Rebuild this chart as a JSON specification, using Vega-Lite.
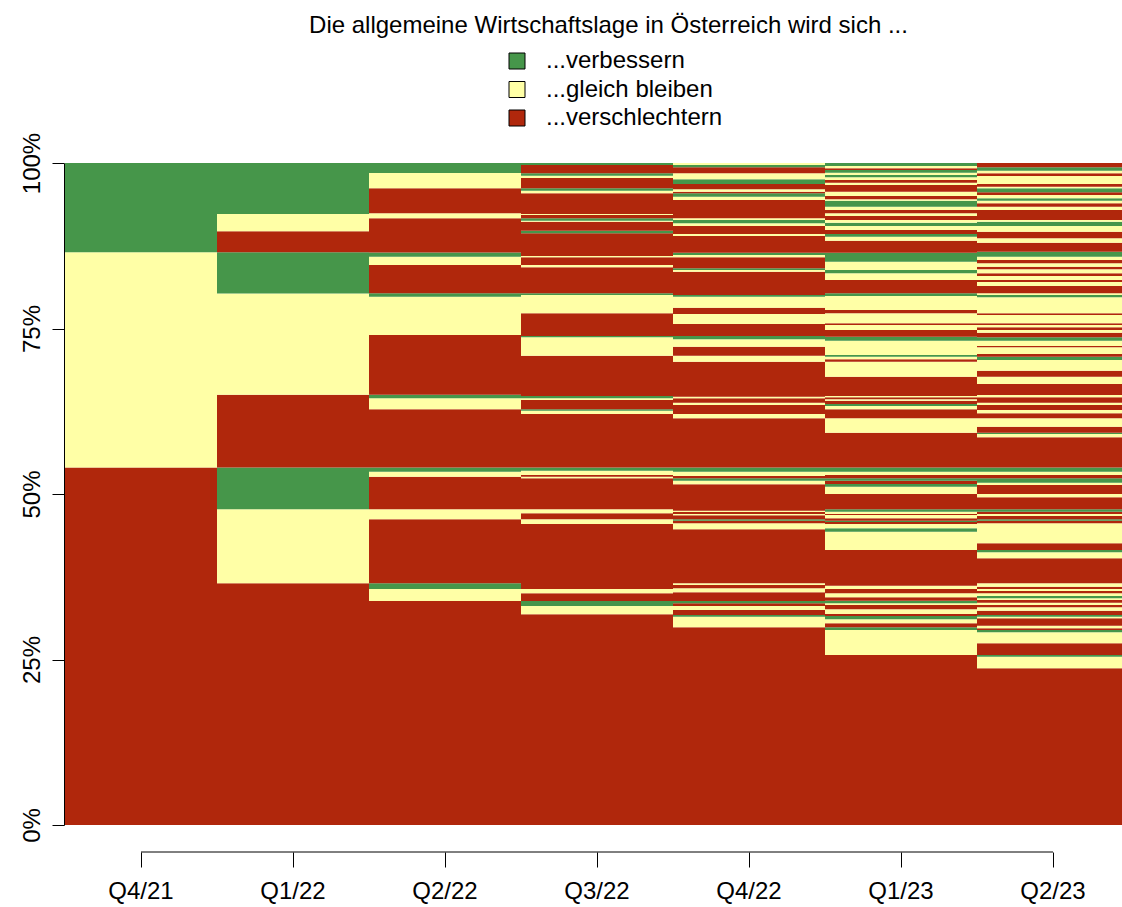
{
"$schema": "https://vega.github.io/schema/vega-lite/v6.json",
"width": 1057, "height": 662,
"autosize": {"type": "none"},
"padding": {"left": 65, "top": 163, "right": 0, "bottom": 82},
"background": "white",
"config": {"view": {"stroke": null}, "font": "Liberation Sans"},
"title": {"text": "Die allgemeine Wirtschaftslage in Österreich wird sich ...", "fontSize": 24, "fontWeight": "normal", "font": "Liberation Sans", "color": "black", "anchor": "middle", "dx": 15, "dy": 24, "frame": "group", "offset": 16, "baseline": "alphabetic"},
"data": {"values": [
{"q":"Q4/21","i":0,"a":"R","p":54},{"q":"Q4/21","i":1,"a":"Y","p":32.5},{"q":"Q4/21","i":2,"a":"G","p":13.5},
{"q":"Q1/22","i":0,"a":"R","p":36.5},{"q":"Q1/22","i":1,"a":"Y","p":11.2},{"q":"Q1/22","i":2,"a":"G","p":6.3},{"q":"Q1/22","i":3,"a":"R","p":11},{"q":"Q1/22","i":4,"a":"Y","p":15.3},{"q":"Q1/22","i":5,"a":"G","p":6.2},{"q":"Q1/22","i":6,"a":"R","p":3.2},{"q":"Q1/22","i":7,"a":"Y","p":2.6},{"q":"Q1/22","i":8,"a":"G","p":7.7},
{"q":"Q2/22","i":0,"a":"R","p":33.84},{"q":"Q2/22","i":1,"a":"Y","p":1.81},{"q":"Q2/22","i":2,"a":"G","p":0.86},{"q":"Q2/22","i":3,"a":"R","p":9.67},{"q":"Q2/22","i":4,"a":"Y","p":1.51},{"q":"Q2/22","i":5,"a":"R","p":4.92},{"q":"Q2/22","i":6,"a":"Y","p":0.76},{"q":"Q2/22","i":7,"a":"G","p":0.63},{"q":"Q2/22","i":8,"a":"R","p":8.79},{"q":"Q2/22","i":9,"a":"Y","p":1.67},{"q":"Q2/22","i":10,"a":"G","p":0.54},{"q":"Q2/22","i":11,"a":"R","p":9.02},{"q":"Q2/22","i":12,"a":"Y","p":5.78},{"q":"Q2/22","i":13,"a":"G","p":0.52},{"q":"Q2/22","i":14,"a":"R","p":4.27},{"q":"Q2/22","i":15,"a":"Y","p":1.26},{"q":"Q2/22","i":16,"a":"G","p":0.63},{"q":"Q2/22","i":17,"a":"R","p":5.17},{"q":"Q2/22","i":18,"a":"Y","p":0.75},{"q":"Q2/22","i":19,"a":"R","p":3.78},{"q":"Q2/22","i":20,"a":"Y","p":2.31},{"q":"Q2/22","i":21,"a":"G","p":1.51},
{"q":"Q3/22","i":0,"a":"R","p":31.83},{"q":"Q3/22","i":1,"a":"Y","p":1.25},{"q":"Q3/22","i":2,"a":"G","p":0.76},{"q":"Q3/22","i":3,"a":"R","p":1.16},{"q":"Q3/22","i":4,"a":"Y","p":0.65},{"q":"Q3/22","i":5,"a":"R","p":9.82},{"q":"Q3/22","i":6,"a":"Y","p":0.71},{"q":"Q3/22","i":7,"a":"R","p":0.90},{"q":"Q3/22","i":8,"a":"Y","p":0.61},{"q":"Q3/22","i":9,"a":"R","p":4.68},{"q":"Q3/22","i":10,"a":"Y","p":0.24},{"q":"Q3/22","i":11,"a":"R","p":0.26},{"q":"Q3/22","i":12,"a":"Y","p":0.65},{"q":"Q3/22","i":13,"a":"G","p":0.48},{"q":"Q3/22","i":14,"a":"R","p":8.08},{"q":"Q3/22","i":15,"a":"Y","p":0.50},{"q":"Q3/22","i":16,"a":"G","p":0.21},{"q":"Q3/22","i":17,"a":"R","p":1.41},{"q":"Q3/22","i":18,"a":"Y","p":0.26},{"q":"Q3/22","i":19,"a":"G","p":0.34},{"q":"Q3/22","i":20,"a":"R","p":6.09},{"q":"Q3/22","i":21,"a":"Y","p":2.78},{"q":"Q3/22","i":22,"a":"G","p":0.20},{"q":"Q3/22","i":23,"a":"R","p":3.43},{"q":"Q3/22","i":24,"a":"Y","p":2.76},{"q":"Q3/22","i":25,"a":"G","p":0.26},{"q":"Q3/22","i":26,"a":"R","p":3.92},{"q":"Q3/22","i":27,"a":"Y","p":0.35},{"q":"Q3/22","i":28,"a":"R","p":1.17},{"q":"Q3/22","i":29,"a":"Y","p":0.19},{"q":"Q3/22","i":30,"a":"R","p":3.43},{"q":"Q3/22","i":31,"a":"G","p":0.39},{"q":"Q3/22","i":32,"a":"R","p":1.36},{"q":"Q3/22","i":33,"a":"Y","p":0.15},{"q":"Q3/22","i":34,"a":"G","p":0.37},{"q":"Q3/22","i":35,"a":"R","p":0.50},{"q":"Q3/22","i":36,"a":"Y","p":0.15},{"q":"Q3/22","i":37,"a":"R","p":3.12},{"q":"Q3/22","i":38,"a":"Y","p":0.40},{"q":"Q3/22","i":39,"a":"G","p":0.36},{"q":"Q3/22","i":40,"a":"R","p":1.55},{"q":"Q3/22","i":41,"a":"Y","p":0.35},{"q":"Q3/22","i":42,"a":"G","p":0.36},{"q":"Q3/22","i":43,"a":"R","p":1.26},{"q":"Q3/22","i":44,"a":"G","p":0.30},
{"q":"Q4/22","i":0,"a":"R","p":29.86},{"q":"Q4/22","i":1,"a":"Y","p":1.61},{"q":"Q4/22","i":2,"a":"G","p":0.25},{"q":"Q4/22","i":3,"a":"R","p":0.76},{"q":"Q4/22","i":4,"a":"Y","p":0.60},{"q":"Q4/22","i":5,"a":"R","p":0.41},{"q":"Q4/22","i":6,"a":"G","p":0.35},{"q":"Q4/22","i":7,"a":"R","p":1.31},{"q":"Q4/22","i":8,"a":"Y","p":0.61},{"q":"Q4/22","i":9,"a":"R","p":0.49},{"q":"Q4/22","i":10,"a":"Y","p":0.26},{"q":"Q4/22","i":11,"a":"R","p":8.16},{"q":"Q4/22","i":12,"a":"Y","p":0.90},{"q":"Q4/22","i":13,"a":"R","p":0.40},{"q":"Q4/22","i":14,"a":"G","p":0.21},{"q":"Q4/22","i":15,"a":"R","p":0.60},{"q":"Q4/22","i":16,"a":"Y","p":0.20},{"q":"Q4/22","i":17,"a":"R","p":0.30},{"q":"Q4/22","i":18,"a":"Y","p":0.20},{"q":"Q4/22","i":19,"a":"R","p":3.99},{"q":"Q4/22","i":20,"a":"Y","p":0.54},{"q":"Q4/22","i":21,"a":"G","p":0.36},{"q":"Q4/22","i":22,"a":"R","p":0.35},{"q":"Q4/22","i":23,"a":"Y","p":0.65},{"q":"Q4/22","i":24,"a":"G","p":0.63},{"q":"Q4/22","i":25,"a":"R","p":7.44},{"q":"Q4/22","i":26,"a":"Y","p":0.64},{"q":"Q4/22","i":27,"a":"R","p":1.36},{"q":"Q4/22","i":28,"a":"Y","p":0.35},{"q":"Q4/22","i":29,"a":"R","p":0.67},{"q":"Q4/22","i":30,"a":"Y","p":0.24},{"q":"Q4/22","i":31,"a":"R","p":5.28},{"q":"Q4/22","i":32,"a":"Y","p":0.91},{"q":"Q4/22","i":33,"a":"R","p":1.36},{"q":"Q4/22","i":34,"a":"Y","p":1.12},{"q":"Q4/22","i":35,"a":"G","p":0.50},{"q":"Q4/22","i":36,"a":"R","p":1.81},{"q":"Q4/22","i":37,"a":"Y","p":1.51},{"q":"Q4/22","i":38,"a":"R","p":0.95},{"q":"Q4/22","i":39,"a":"Y","p":1.66},{"q":"Q4/22","i":40,"a":"G","p":0.26},{"q":"Q4/22","i":41,"a":"R","p":3.52},{"q":"Q4/22","i":42,"a":"Y","p":0.26},{"q":"Q4/22","i":43,"a":"G","p":0.25},{"q":"Q4/22","i":44,"a":"R","p":1.67},{"q":"Q4/22","i":45,"a":"Y","p":0.34},{"q":"Q4/22","i":46,"a":"G","p":0.35},{"q":"Q4/22","i":47,"a":"R","p":2.52},{"q":"Q4/22","i":48,"a":"Y","p":0.30},{"q":"Q4/22","i":49,"a":"R","p":1.21},{"q":"Q4/22","i":50,"a":"Y","p":0.41},{"q":"Q4/22","i":51,"a":"G","p":0.50},{"q":"Q4/22","i":52,"a":"Y","p":0.26},{"q":"Q4/22","i":53,"a":"R","p":2.76},{"q":"Q4/22","i":54,"a":"Y","p":0.50},{"q":"Q4/22","i":55,"a":"G","p":0.51},{"q":"Q4/22","i":56,"a":"R","p":0.24},{"q":"Q4/22","i":57,"a":"Y","p":0.37},{"q":"Q4/22","i":58,"a":"R","p":0.80},{"q":"Q4/22","i":59,"a":"G","p":0.71},{"q":"Q4/22","i":60,"a":"Y","p":0.90},{"q":"Q4/22","i":61,"a":"R","p":0.91},{"q":"Q4/22","i":62,"a":"G","p":0.35},{"q":"Q4/22","i":63,"a":"Y","p":0.30},
{"q":"Q1/23","i":0,"a":"R","p":25.68},{"q":"Q1/23","i":1,"a":"Y","p":3.78},{"q":"Q1/23","i":2,"a":"G","p":0.40},{"q":"Q1/23","i":3,"a":"R","p":0.61},{"q":"Q1/23","i":4,"a":"Y","p":0.60},{"q":"Q1/23","i":5,"a":"G","p":0.50},{"q":"Q1/23","i":6,"a":"R","p":0.30},{"q":"Q1/23","i":7,"a":"Y","p":0.71},{"q":"Q1/23","i":8,"a":"R","p":0.65},{"q":"Q1/23","i":9,"a":"Y","p":0.26},{"q":"Q1/23","i":10,"a":"G","p":0.39},{"q":"Q1/23","i":11,"a":"R","p":0.52},{"q":"Q1/23","i":12,"a":"Y","p":0.60},{"q":"Q1/23","i":13,"a":"R","p":0.65},{"q":"Q1/23","i":14,"a":"Y","p":0.50},{"q":"Q1/23","i":15,"a":"R","p":5.39},{"q":"Q1/23","i":16,"a":"Y","p":2.77},{"q":"Q1/23","i":17,"a":"G","p":0.51},{"q":"Q1/23","i":18,"a":"Y","p":0.65},{"q":"Q1/23","i":19,"a":"R","p":0.30},{"q":"Q1/23","i":20,"a":"G","p":0.20},{"q":"Q1/23","i":21,"a":"R","p":0.36},{"q":"Q1/23","i":22,"a":"Y","p":0.50},{"q":"Q1/23","i":23,"a":"R","p":0.15},{"q":"Q1/23","i":24,"a":"Y","p":0.35},{"q":"Q1/23","i":25,"a":"G","p":0.36},{"q":"Q1/23","i":26,"a":"R","p":2.31},{"q":"Q1/23","i":27,"a":"Y","p":1.10},{"q":"Q1/23","i":28,"a":"G","p":0.41},{"q":"Q1/23","i":29,"a":"R","p":0.50},{"q":"Q1/23","i":30,"a":"G","p":0.36},{"q":"Q1/23","i":31,"a":"R","p":0.50},{"q":"Q1/23","i":32,"a":"Y","p":0.50},{"q":"Q1/23","i":33,"a":"G","p":0.63},{"q":"Q1/23","i":34,"a":"R","p":5.26},{"q":"Q1/23","i":35,"a":"Y","p":2.18},{"q":"Q1/23","i":36,"a":"R","p":1.35},{"q":"Q1/23","i":37,"a":"Y","p":0.50},{"q":"Q1/23","i":38,"a":"G","p":0.31},{"q":"Q1/23","i":39,"a":"R","p":0.49},{"q":"Q1/23","i":40,"a":"Y","p":0.21},{"q":"Q1/23","i":41,"a":"R","p":0.31},{"q":"Q1/23","i":42,"a":"Y","p":0.19},{"q":"Q1/23","i":43,"a":"R","p":2.92},{"q":"Q1/23","i":44,"a":"Y","p":2.26},{"q":"Q1/23","i":45,"a":"R","p":0.37},{"q":"Q1/23","i":46,"a":"Y","p":0.39},{"q":"Q1/23","i":47,"a":"G","p":0.26},{"q":"Q1/23","i":48,"a":"Y","p":2.16},{"q":"Q1/23","i":49,"a":"G","p":0.60},{"q":"Q1/23","i":50,"a":"R","p":1.01},{"q":"Q1/23","i":51,"a":"Y","p":0.76},{"q":"Q1/23","i":52,"a":"R","p":0.26},{"q":"Q1/23","i":53,"a":"Y","p":1.51},{"q":"Q1/23","i":54,"a":"R","p":0.49},{"q":"Q1/23","i":55,"a":"Y","p":2.12},{"q":"Q1/23","i":56,"a":"G","p":0.41},{"q":"Q1/23","i":57,"a":"R","p":2.01},{"q":"Q1/23","i":58,"a":"Y","p":1.01},{"q":"Q1/23","i":59,"a":"G","p":0.50},{"q":"Q1/23","i":60,"a":"Y","p":1.25},{"q":"Q1/23","i":61,"a":"G","p":1.36},{"q":"Q1/23","i":62,"a":"R","p":1.81},{"q":"Q1/23","i":63,"a":"Y","p":0.61},{"q":"Q1/23","i":64,"a":"G","p":0.40},{"q":"Q1/23","i":65,"a":"R","p":0.61},{"q":"Q1/23","i":66,"a":"Y","p":0.60},{"q":"Q1/23","i":67,"a":"G","p":0.50},{"q":"Q1/23","i":68,"a":"Y","p":0.41},{"q":"Q1/23","i":69,"a":"R","p":0.60},{"q":"Q1/23","i":70,"a":"Y","p":0.41},{"q":"Q1/23","i":71,"a":"R","p":0.50},{"q":"Q1/23","i":72,"a":"Y","p":0.50},{"q":"Q1/23","i":73,"a":"G","p":0.91},{"q":"Q1/23","i":74,"a":"Y","p":0.21},{"q":"Q1/23","i":75,"a":"R","p":0.50},{"q":"Q1/23","i":76,"a":"Y","p":0.64},{"q":"Q1/23","i":77,"a":"R","p":1.02},{"q":"Q1/23","i":78,"a":"Y","p":0.34},{"q":"Q1/23","i":79,"a":"R","p":0.41},{"q":"Q1/23","i":80,"a":"Y","p":0.41},{"q":"Q1/23","i":81,"a":"G","p":0.35},{"q":"Q1/23","i":82,"a":"Y","p":0.35},{"q":"Q1/23","i":83,"a":"G","p":0.40},{"q":"Q1/23","i":84,"a":"R","p":0.26},{"q":"Q1/23","i":85,"a":"Y","p":0.35},{"q":"Q1/23","i":86,"a":"G","p":0.45},
{"q":"Q2/23","i":0,"a":"R","p":23.67},{"q":"Q2/23","i":1,"a":"Y","p":1.75},{"q":"Q2/23","i":2,"a":"G","p":0.26},{"q":"Q2/23","i":3,"a":"R","p":1.77},{"q":"Q2/23","i":4,"a":"Y","p":1.66},{"q":"Q2/23","i":5,"a":"G","p":0.35},{"q":"Q2/23","i":6,"a":"R","p":0.25},{"q":"Q2/23","i":7,"a":"Y","p":0.40},{"q":"Q2/23","i":8,"a":"R","p":1.11},{"q":"Q2/23","i":9,"a":"Y","p":0.25},{"q":"Q2/23","i":10,"a":"G","p":0.25},{"q":"Q2/23","i":11,"a":"R","p":0.65},{"q":"Q2/23","i":12,"a":"Y","p":0.52},{"q":"Q2/23","i":13,"a":"R","p":0.34},{"q":"Q2/23","i":14,"a":"Y","p":0.35},{"q":"Q2/23","i":15,"a":"R","p":0.41},{"q":"Q2/23","i":16,"a":"Y","p":0.25},{"q":"Q2/23","i":17,"a":"G","p":0.35},{"q":"Q2/23","i":18,"a":"Y","p":0.41},{"q":"Q2/23","i":19,"a":"R","p":0.35},{"q":"Q2/23","i":20,"a":"Y","p":0.30},{"q":"Q2/23","i":21,"a":"R","p":0.35},{"q":"Q2/23","i":22,"a":"Y","p":0.51},{"q":"Q2/23","i":23,"a":"R","p":3.78},{"q":"Q2/23","i":24,"a":"Y","p":0.90},{"q":"Q2/23","i":25,"a":"G","p":0.35},{"q":"Q2/23","i":26,"a":"R","p":1.01},{"q":"Q2/23","i":27,"a":"Y","p":3.02},{"q":"Q2/23","i":28,"a":"R","p":0.40},{"q":"Q2/23","i":29,"a":"G","p":0.21},{"q":"Q2/23","i":30,"a":"R","p":0.50},{"q":"Q2/23","i":31,"a":"Y","p":0.30},{"q":"Q2/23","i":32,"a":"R","p":0.35},{"q":"Q2/23","i":33,"a":"G","p":0.36},{"q":"Q2/23","i":34,"a":"R","p":1.81},{"q":"Q2/23","i":35,"a":"Y","p":0.50},{"q":"Q2/23","i":36,"a":"R","p":1.36},{"q":"Q2/23","i":37,"a":"Y","p":0.35},{"q":"Q2/23","i":38,"a":"G","p":0.66},{"q":"Q2/23","i":39,"a":"R","p":0.50},{"q":"Q2/23","i":40,"a":"Y","p":0.50},{"q":"Q2/23","i":41,"a":"G","p":0.63},{"q":"Q2/23","i":42,"a":"R","p":4.57},{"q":"Q2/23","i":43,"a":"Y","p":0.49},{"q":"Q2/23","i":44,"a":"G","p":0.20},{"q":"Q2/23","i":45,"a":"R","p":0.91},{"q":"Q2/23","i":46,"a":"Y","p":1.27},{"q":"Q2/23","i":47,"a":"R","p":0.75},{"q":"Q2/23","i":48,"a":"Y","p":0.50},{"q":"Q2/23","i":49,"a":"R","p":0.75},{"q":"Q2/23","i":50,"a":"Y","p":0.35},{"q":"Q2/23","i":51,"a":"R","p":0.82},{"q":"Q2/23","i":52,"a":"Y","p":0.34},{"q":"Q2/23","i":53,"a":"R","p":1.67},{"q":"Q2/23","i":54,"a":"Y","p":1.10},{"q":"Q2/23","i":55,"a":"R","p":0.91},{"q":"Q2/23","i":56,"a":"Y","p":1.61},{"q":"Q2/23","i":57,"a":"G","p":0.50},{"q":"Q2/23","i":58,"a":"R","p":0.41},{"q":"Q2/23","i":59,"a":"Y","p":1.01},{"q":"Q2/23","i":60,"a":"R","p":0.20},{"q":"Q2/23","i":61,"a":"Y","p":0.80},{"q":"Q2/23","i":62,"a":"G","p":0.51},{"q":"Q2/23","i":63,"a":"R","p":0.70},{"q":"Q2/23","i":64,"a":"Y","p":0.40},{"q":"Q2/23","i":65,"a":"R","p":0.41},{"q":"Q2/23","i":66,"a":"Y","p":0.35},{"q":"Q2/23","i":67,"a":"R","p":0.26},{"q":"Q2/23","i":68,"a":"Y","p":1.25},{"q":"Q2/23","i":69,"a":"R","p":0.26},{"q":"Q2/23","i":70,"a":"Y","p":2.41},{"q":"Q2/23","i":71,"a":"G","p":0.35},{"q":"Q2/23","i":72,"a":"Y","p":0.26},{"q":"Q2/23","i":73,"a":"R","p":1.10},{"q":"Q2/23","i":74,"a":"Y","p":0.60},{"q":"Q2/23","i":75,"a":"R","p":0.31},{"q":"Q2/23","i":76,"a":"Y","p":0.60},{"q":"Q2/23","i":77,"a":"R","p":0.41},{"q":"Q2/23","i":78,"a":"Y","p":0.60},{"q":"Q2/23","i":79,"a":"R","p":0.40},{"q":"Q2/23","i":80,"a":"Y","p":0.51},{"q":"Q2/23","i":81,"a":"R","p":0.50},{"q":"Q2/23","i":82,"a":"Y","p":0.50},{"q":"Q2/23","i":83,"a":"G","p":0.75},{"q":"Q2/23","i":84,"a":"R","p":1.36},{"q":"Q2/23","i":85,"a":"Y","p":0.67},{"q":"Q2/23","i":86,"a":"R","p":0.99},{"q":"Q2/23","i":87,"a":"Y","p":0.86},{"q":"Q2/23","i":88,"a":"G","p":0.65},{"q":"Q2/23","i":89,"a":"Y","p":0.26},{"q":"Q2/23","i":90,"a":"R","p":1.51},{"q":"Q2/23","i":91,"a":"Y","p":0.50},{"q":"Q2/23","i":92,"a":"R","p":0.51},{"q":"Q2/23","i":93,"a":"Y","p":0.40},{"q":"Q2/23","i":94,"a":"G","p":0.36},{"q":"Q2/23","i":95,"a":"Y","p":0.50},{"q":"Q2/23","i":96,"a":"R","p":0.40},{"q":"Q2/23","i":97,"a":"G","p":0.61},{"q":"Q2/23","i":98,"a":"Y","p":0.24},{"q":"Q2/23","i":99,"a":"R","p":0.41},{"q":"Q2/23","i":100,"a":"Y","p":1.21},{"q":"Q2/23","i":101,"a":"R","p":0.40},{"q":"Q2/23","i":102,"a":"Y","p":0.40},{"q":"Q2/23","i":103,"a":"G","p":0.51},{"q":"Q2/23","i":104,"a":"R","p":0.65}
]},
"layer": [
{"mark": {"type": "bar", "clip": true, "strokeWidth": 0},
 "encoding": {
  "x": {"field": "q", "type": "ordinal", "sort": ["Q4/21","Q1/22","Q2/22","Q3/22","Q4/22","Q1/23","Q2/23"],
        "scale": {"paddingInner": 0, "paddingOuter": 0, "range": [0, 1064]},
        "axis": {"title": null, "domain": false, "offset": 27, "tickSize": 15, "tickColor": "black", "tickWidth": 1, "labelPadding": 12, "labelAngle": 0, "labelFontSize": 24, "labelColor": "black", "labelFont": "Liberation Sans"}},
  "y": {"field": "p", "type": "quantitative", "stack": "zero", "scale": {"domain": [0, 100], "nice": false},
        "axis": {"title": null, "grid": false, "values": [0, 25, 50, 75, 100], "labelExpr": "datum.value + '%'", "domain": true, "domainColor": "black", "tickColor": "black", "tickSize": 12, "labelAngle": 270, "labelAlign": "center", "labelBaseline": "bottom", "labelPadding": 8, "labelFontSize": 24, "labelColor": "black", "labelFont": "Liberation Sans", "labelOverlap": false, "labelFlush": false, "offset": 1}},
  "color": {"field": "a", "type": "nominal", "scale": {"domain": ["G", "Y", "R"], "range": ["#46964A", "#FFFFA6", "#B0270C"]},
        "legend": {"orient": "none", "legendX": 440, "legendY": -114, "title": null, "padding": 0, "symbolType": "square", "symbolSize": 256, "symbolStrokeColor": "black", "symbolStrokeWidth": 1, "labelFontSize": 24, "labelFont": "Liberation Sans", "labelColor": "black", "labelOffset": 17, "labelLimit": 0, "rowPadding": 4.5,
                   "labelExpr": "datum.label == 'G' ? '...verbessern' : datum.label == 'Y' ? '...gleich bleiben' : '...verschlechtern'"}},
  "order": {"field": "i", "type": "quantitative"}
 }},
{"mark": {"type": "rule", "color": "black", "strokeWidth": 1},
 "data": {"values": [{}]},
 "encoding": {"x": {"datum": "Q4/21", "type": "ordinal"}, "x2": {"datum": "Q2/23"}, "y": {"datum": -4.08, "type": "quantitative"}}}
]
}
